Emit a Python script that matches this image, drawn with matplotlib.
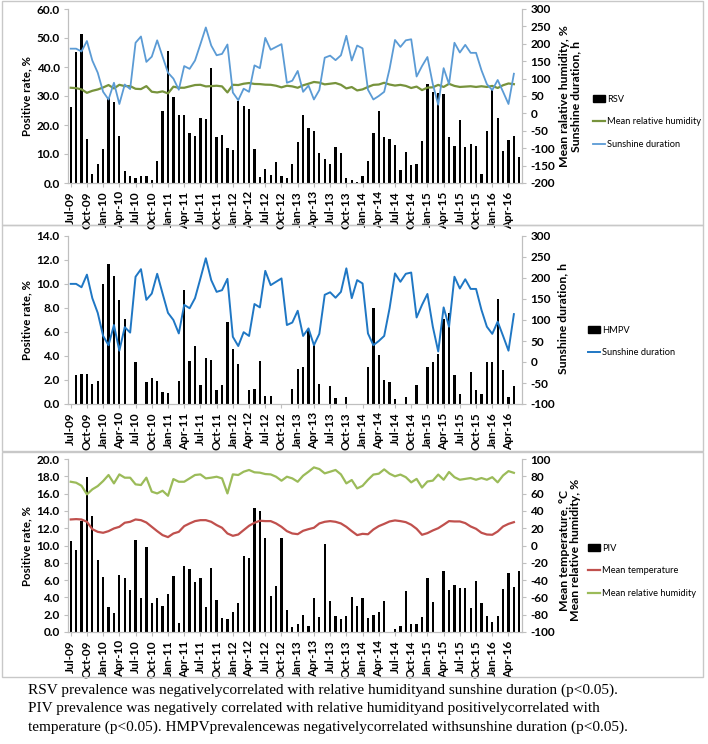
import numpy as np
import matplotlib
matplotlib.use("Agg")
import matplotlib.pyplot as plt
from matplotlib.patches import Rectangle
from matplotlib.lines import Line2D

plt.rcParams['font.family'] = ['Lato', 'DejaVu Sans']

nan = np.nan
# months Jul-09 .. Jun-16
months = []
mnames = ['Jan', 'Feb', 'Mar', 'Apr', 'May', 'Jun', 'Jul', 'Aug', 'Sep', 'Oct', 'Nov', 'Dec']
for k in range(84):
    m = (6 + k) % 12
    y = 9 + (6 + k) // 12
    months.append("%s-%02d" % (mnames[m], y))

rsv = [26.2, 45.1, 51.3, 15.3, 3.2, 6.5, 11.6, 29.2, 28.1, 16.3,
       4.2, 2.3, 1.7, 2.3, 2.5, 1.2, 7.6, 24.8, 45.6, 29.8,
       23.5, 23.5, 17.3, 16.1, 22.5, 22.1, 39.7, 15.8, 16.4, 12.1,
       11.4, 28.4, 26.5, 25.6, 11.8, 2.1, 5.0, 2.8, 7.2, 2.3,
       1.8, 6.7, 14.1, 23.3, 18.9, 17.8, 10.5, 8.2, 6.6, 12.5,
       10.5, 1.8, 1.2, 0.3, 2.5, 7.6, 17.4, 24.9, 15.9, 15.2,
       13.1, 4.6, 10.6, 6.2, 6.6, 14.4, 34.0, 31.5, 30.9, 30.8,
       16.0, 12.6, 21.7, 12.5, 13.6, 12.9, 3.2, 18.0, 32.3, 22.4,
       11.1, 14.8, 16.1, 8.8]

hmpv = [0, 2.4, 2.5, 2.5, 1.7, 1.9, 10.0, 11.7, 10.7, 8.7,
        7.1, 0, 3.5, 0, 1.8, 2.2, 1.9, 1.0, 0.9, 0,
        1.9, 9.5, 3.6, 4.8, 1.6, 3.8, 3.7, 1.2, 1.6, 6.8,
        4.6, 3.3, 0, 1.2, 1.25, 3.6, 0.7, 0.7, 0, 0,
        0, 1.25, 2.9, 3.1, 6.2, 5.1, 1.7, 0, 1.5, 0.5,
        0, 0.6, 0, 0, 0, 3.1, 8.0, 4.1, 2.0, 1.8,
        0.4, 0, 0.6, 0, 1.6, 0, 3.1, 3.5, 4.2, 7.1,
        7.6, 2.4, 0.8, 0, 2.7, 1.2, 0.8, 3.5, 3.5, 8.75,
        2.8, 0.6, 1.5, 0]

piv = [10.5, 9.5, 12.8, 17.9, 13.4, 8.3, 6.4, 2.9, 2.2, 6.6,
       6.3, 4.9, 10.6, 3.9, 9.8, 3.3, 3.9, 3.0, 4.4, 6.5,
       1.0, 7.6, 7.3, 5.8, 6.2, 2.9, 7.4, 3.7, 1.6, 1.5,
       2.3, 3.4, 8.8, 8.6, 14.3, 14.0, 10.9, 4.2, 5.3, 10.9,
       2.5, 0.6, 0.9, 2.0, 0.7, 3.9, 1.7, 10.2, 3.6, 1.9,
       1.5, 1.8, 4.1, 3.0, 3.9, 1.6, 2.0, 2.3, 3.6, 0,
       0.4, 0.7, 4.7, 0.9, 0.9, 1.7, 6.2, 3.5, 0, 7.1,
       4.8, 5.4, 5.1, 5.1, 2.8, 5.9, 3.3, 1.8, 1.2, 1.9,
       5.0, 6.8, 5.2, 7.0]

humidity = [73.7, 72.6, 69.1, 59.1, 64.9, 68.7, 74.5, 81.5, 71.8, 82.2,
            78.4, 78.4, 70.7, 69.9, 78.4, 62.2, 60.2, 63.3, 57.5, 76.8,
            73.7, 73.7, 77.6, 81.5, 82.2, 77.6, 78.4, 79.5, 77.6, 60.2,
            82.2, 81.5, 85.3, 87.3, 84.6, 84.2, 82.6, 82.2, 79.5, 74.9,
            79.5, 77.6, 73.7, 80.7, 85.3, 90.3, 88.4, 83.4, 85.3, 87.3,
            82.2, 71.8, 75.7, 66.0, 69, 76, 82, 83, 88, 83,
            80, 82, 79, 73, 77, 67, 74, 75, 82, 76,
            85, 79, 76, 77, 78, 76, 78, 76, 79, 73,
            81, 86, 84, nan]

temperature = [30.1, 30.5, 30.1, 27.4, 18.9, 15.8, 14.7, 16.6, 19.7, 21.6,
               26.3, 27.4, 30.1, 29.3, 26.6, 21.6, 16.6, 12.0, 9.7, 13.9,
               15.8, 22.4, 25.5, 28.2, 29.3, 29.3, 27.4, 23.6, 20.5, 13.9,
               11.2, 12.7, 17.8, 22.8, 26.3, 28.6, 28.2, 28.2, 25.5, 21.6,
               16.6, 13.9, 13.1, 17.0, 18.9, 20.5, 25.5, 27.4, 28.2, 27.4,
               25.5, 21.6, 16.6, 12.0, 13.5, 13, 18.5, 22.4, 25, 27.8,
               29, 28.2, 27, 24, 19.3, 12.4, 14.3, 17.4, 20, 24,
               28.2, 27.8, 27.8, 25.9, 22, 19.3, 14.7, 12.7, 12.4, 16.2,
               22, 25, 27, nan]

sunshine = [186, 186, 178, 208, 152, 117, 62, 40, 88, 27,
            83, 70, 203, 221, 148, 163, 210, 163, 117, 100,
            68, 136, 128, 152, 199, 247, 195, 167, 171, 198,
            60, 38, 71, 62, 138, 130, 217, 183, 191, 199,
            88, 94, 122, 62, 80, 40, 67, 160, 166, 153,
            167, 223, 152, 195, 187, 68, 40, 50, 62, 128,
            211, 191, 210, 213, 106, 136, 162, 84, 25, 130,
            84, 203, 175, 197, 174, 174, 124, 84, 67, 96,
            62, 27, 114, nan]

caption = ("RSV prevalence was negativelycorrelated with relative humidityand sunshine duration (p<0.05).\n"
           "PIV prevalence was negatively correlated with relative humidityand positivelycorrelated with\n"
           "temperature (p<0.05). HMPVprevalencewas negativelycorrelated withsunshine duration (p<0.05).")

W, H = 708, 744
fig = plt.figure(figsize=(W / 100, H / 100), dpi=100)

GREY = '#bfbfbf'
TF = dict(fontsize=8.5, fontweight='bold')


def px_rect(x0, y0, x1, y1):
    return [x0 / W, 1 - y1 / H, (x1 - x0) / W, (y1 - y0) / H]


# panel frames
for (y0, y1) in [(1, 225), (225, 451), (452, 677)]:
    fig.patches.append(Rectangle((2 / W, 1 - y1 / H), 701 / W, (y1 - y0) / H,
                                 transform=fig.transFigure, fill=False,
                                 edgecolor='#c8c8c8', lw=1.0))

x = np.arange(84)


def setup(ax, ax2, ymax, ystep, rlo, rhi, rstep):
    ax.set_xlim(-0.5, 83.5)
    ax.set_ylim(0, ymax)
    ax.set_yticks(np.arange(0, ymax + 0.001, ystep))
    ax.set_yticklabels(["%.1f" % v for v in np.arange(0, ymax + 0.001, ystep)], **TF)
    ax.set_xticks(x[::3])
    ax.set_xticklabels(months[::3], rotation=90, **TF)
    ax2.set_ylim(rlo, rhi)
    ax2.set_yticks(np.arange(rlo, rhi + 1, rstep))
    ax2.set_yticklabels(["%d" % v for v in np.arange(rlo, rhi + 1, rstep)], **TF)
    for a in (ax, ax2):
        a.spines['top'].set_visible(False)
        for s in ('left', 'right', 'bottom'):
            a.spines[s].set_color(GREY)
            a.spines[s].set_linewidth(0.8)
        a.tick_params(colors=GREY, length=3, width=0.8, labelcolor='black', pad=3)
    ax.set_ylabel("Positive rate, %", fontsize=8.3, fontweight='bold', labelpad=3)
    ax.set_facecolor('none')


def right_label(text, ycen, xcen=570):
    fig.text(xcen / W, 1 - ycen / H, text, rotation=90, ha='center', va='center',
             fontsize=8.8, fontweight='bold', linespacing=1.05, multialignment='center')


def legend(ax, handles, labels, xpx, ypx, spacing):
    leg = ax.legend(handles, labels, loc='upper left',
                    bbox_to_anchor=(xpx / W, 1 - ypx / H), bbox_transform=fig.transFigure,
                    frameon=False, fontsize=6.7, handlelength=1.3, handletextpad=0.25,
                    labelspacing=spacing, borderaxespad=0, borderpad=0)
    return leg


# ---- panel 1: RSV
ax1 = fig.add_axes(px_rect(68, 9, 522, 183))
ax1r = ax1.twinx()
ax1.bar(x, rsv, width=0.42, color='black', zorder=2)
ax1r.plot(x, humidity, color='#77933c', lw=1.6)
ax1r.plot(x, sunshine, color='#5b9bd5', lw=1.3)
setup(ax1, ax1r, 60, 10, -200, 300, 50)
right_label("Mean ralative humidity, %\nSunshine duration, h", 96, 570)
h1 = [Rectangle((0, 0), 1, 1, color='black'),
      Line2D([], [], color='#77933c', lw=1.6),
      Line2D([], [], color='#5b9bd5', lw=1.3)]
legend(ax1r, h1, ['RSV', 'Mean relative humidity', 'Sunshine duration'], 593, 95, 1.45)

# ---- panel 2: HMPV
ax2 = fig.add_axes(px_rect(68, 236, 522, 404))
ax2r = ax2.twinx()
ax2.bar(x, hmpv, width=0.42, color='black', zorder=2)
ax2r.plot(x, sunshine, color='#1f77c4', lw=1.4)
setup(ax2, ax2r, 14, 2, -100, 300, 50)
right_label("Sunshine duration, h", 318, 563)
h2 = [Rectangle((0, 0), 1, 1, color='black'),
      Line2D([], [], color='#1f77c4', lw=1.4)]
legend(ax2r, h2, ['HMPV', 'Sunshine duration'], 588, 326, 1.45)

# ---- panel 3: PIV
ax3 = fig.add_axes(px_rect(68, 459, 522, 632))
ax3r = ax3.twinx()
ax3.bar(x, piv, width=0.42, color='black', zorder=2)
ax3r.plot(x, temperature, color='#c0504d', lw=1.6)
ax3r.plot(x, humidity, color='#9bbb59', lw=1.6)
setup(ax3, ax3r, 20, 2, -100, 100, 20)
right_label("Mean temperature, \u00b0C\nMean relative humidity, %", 550, 570)
h3 = [Rectangle((0, 0), 1, 1, color='black'),
      Line2D([], [], color='#c0504d', lw=1.6),
      Line2D([], [], color='#9bbb59', lw=1.6)]
legend(ax3r, h3, ['PIV', 'Mean temperature', 'Mean relative humidity'], 588, 544, 1.45)

fig.text(28 / W, 1 - 684 / H, caption, family='Liberation Serif', fontsize=11.0,
         va='top', ha='left', linespacing=1.5)

fig.savefig('out.png', dpi=100)
